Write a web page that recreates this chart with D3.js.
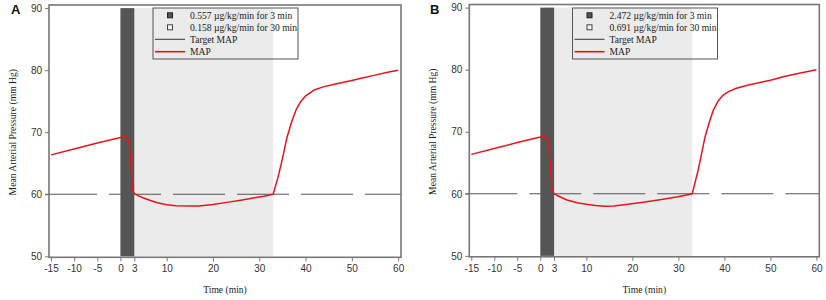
<!DOCTYPE html>
<html>
<head>
<meta charset="utf-8">
<script src="https://cdn.jsdelivr.net/npm/d3@7"></script>
<style>
  body { margin: 0; background: #fff; }
  svg { display: block; }
  .tick text { font-family: "Liberation Sans", Arial, sans-serif; font-size: 10px; fill: #333; }
  .tick line { stroke: #777; }
  .serif { font-family: "Liberation Serif", "Times New Roman", serif; font-size: 9.6px; fill: #222; }
</style>
</head>
<body>
<script>
'use strict'

// Data
const xTicks = [-15, -10, -5, 0, 3, 10, 20, 30, 40, 50, 60];
const yTicks = [50, 60, 70, 80, 90];
const targetMap = 60;
const bolus = [0, 3];      // dark band (min)
const infusion = [3, 33];  // light band (min)

const legendA = ['0.557 \u00b5g/kg/min for 3 min', '0.158 \u00b5g/kg/min for 30 min', 'Target MAP', 'MAP'];
const legendB = ['2.472 \u00b5g/kg/min for 3 min', '0.691 \u00b5g/kg/min for 30 min', 'Target MAP', 'MAP'];

const timeA = [-15, -10, -5, 0, 0.9, 1.6, 1.9, 2.2, 2.6, 3, 4, 5, 6.5, 8, 10, 12, 15, 17, 20, 23, 26, 29, 31, 33,
               34, 35, 36, 37, 38, 39, 40, 42, 44, 46, 48, 50, 52, 55, 58, 60];
const mapA  = [66.35, 67.3, 68.25, 69.15, 69.35, 69.0, 68.2, 65.5, 60.8, 60.1, 59.7, 59.4, 59.0, 58.65, 58.3, 58.15, 58.1, 58.1, 58.35, 58.7, 59.05, 59.45, 59.7, 60.0,
               62.6, 65.7, 69.2, 71.7, 73.7, 75.0, 75.85, 76.85, 77.35, 77.7, 78.0, 78.35, 78.7, 79.2, 79.7, 80.0];

const timeB = [-15, -10, -5, 0, 0.7, 1.4, 1.8, 2.1, 2.5, 3, 4, 5.8, 8, 10, 12, 14, 16, 19, 22, 26, 29.6, 31, 33,
               34.3, 35, 35.8, 36.7, 37.6, 38.6, 39.7, 41, 42.6, 45, 47.5, 50, 53, 56, 60];
const mapB  = [66.35, 67.3, 68.25, 69.15, 69.35, 69.0, 68.2, 65.5, 60.8, 60.0, 59.6, 59.0, 58.55, 58.3, 58.1, 58.0, 58.05, 58.3, 58.6, 59.05, 59.5, 59.7, 60.0,
               63.8, 66.3, 69.2, 71.5, 73.5, 74.9, 75.9, 76.5, 77.0, 77.5, 77.9, 78.3, 78.9, 79.4, 80.0];

const svg = d3.select('body').append('svg')
    .attr('width', 826)
    .attr('height', 300);

function drawPanel(p) {
    const g = svg.append('g');

    const x = d3.scaleLinear().domain([-15.43, 60.62]).range([p.left, p.right]);
    const y = d3.scaleLinear().domain([49.85, 90.5]).range([p.bottom, p.top]);

    // shaded dosing periods
    g.append('rect')
        .attr('x', x(infusion[0])).attr('y', y(90))
        .attr('width', x(infusion[1]) - x(infusion[0]))
        .attr('height', y(50) - y(90))
        .attr('fill', '#ebebeb');
    g.append('rect')
        .attr('x', x(bolus[0])).attr('y', y(90))
        .attr('width', x(bolus[1]) - x(bolus[0]))
        .attr('height', y(50) - y(90))
        .attr('fill', '#555');

    // target MAP (long dashes)
    g.append('line')
        .attr('x1', p.left - 4).attr('x2', p.right)
        .attr('y1', y(targetMap)).attr('y2', y(targetMap))
        .attr('stroke', '#555')
        .attr('stroke-width', 1.1)
        .attr('stroke-dasharray', '52,12');

    // MAP curve
    const line = d3.line()
        .x(d => x(d[0]))
        .y(d => y(d[1]));
    g.append('path')
        .datum(p.time.map((t, i) => [t, p.map[i]]))
        .attr('d', line)
        .attr('fill', 'none')
        .attr('stroke', '#e8141c')
        .attr('stroke-width', 1.5)
        .attr('stroke-linejoin', 'round');

    // axes (plain hyphen for negatives, like the original)
    const xAxis = d3.axisBottom(x).tickValues(xTicks).tickSize(4).tickPadding(4)
        .tickFormat(d => String(d));
    const yAxis = d3.axisLeft(y).tickValues(yTicks).tickSize(4).tickPadding(3)
        .tickFormat(d => String(d));

    g.append('g')
        .attr('transform', `translate(0,${p.bottom})`)
        .call(xAxis)
        .call(a => a.select('.domain').remove());
    g.append('g')
        .attr('transform', `translate(${p.left},0)`)
        .call(yAxis)
        .call(a => a.select('.domain').remove());

    // frame
    g.append('rect')
        .attr('x', p.left).attr('y', p.top)
        .attr('width', p.right - p.left)
        .attr('height', p.bottom - p.top)
        .attr('fill', 'none')
        .attr('stroke', '#777')
        .attr('stroke-width', 1.6);

    // axis titles
    g.append('text')
        .attr('class', 'serif')
        .attr('x', (p.left + p.right) / 2)
        .attr('y', 293)
        .attr('text-anchor', 'middle')
        .text('Time (min)');
    g.append('text')
        .attr('class', 'serif')
        .attr('transform', `translate(${p.left - 33},${y(70)}) rotate(-90)`)
        .attr('text-anchor', 'middle')
        .text('Mean Arterial Pressure (mm Hg)');

    // panel letter
    g.append('text')
        .attr('x', p.letterX).attr('y', 14)
        .style('font-family', '"Liberation Sans", Arial, sans-serif')
        .style('font-weight', 'bold')
        .style('font-size', '13px')
        .attr('fill', '#111')
        .text(p.letter);

    // legend (transparent box)
    const lg = g.append('g').attr('transform', `translate(${p.legendX},8)`);
    lg.append('rect')
        .attr('width', 145).attr('height', 51)
        .attr('fill', 'none')
        .attr('stroke', '#555')
        .attr('stroke-width', 1);
    const rows = [7.3, 19.3, 31.3, 43.7];
    lg.append('rect')
        .attr('x', 14.5).attr('y', rows[0] - 2.5)
        .attr('width', 5).attr('height', 5)
        .attr('fill', '#555').attr('stroke', '#222');
    lg.append('rect')
        .attr('x', 14.5).attr('y', rows[1] - 2.5)
        .attr('width', 5).attr('height', 5)
        .attr('fill', '#f4f4f4').attr('stroke', '#444');
    lg.append('line')
        .attr('x1', 2).attr('x2', 32)
        .attr('y1', rows[2]).attr('y2', rows[2])
        .attr('stroke', '#333').attr('stroke-width', 1);
    lg.append('line')
        .attr('x1', 2).attr('x2', 32)
        .attr('y1', rows[3]).attr('y2', rows[3])
        .attr('stroke', '#e8141c').attr('stroke-width', 1.6);
    lg.selectAll('text.item')
        .data(p.legend)
        .join('text')
        .attr('class', 'item serif')
        .attr('x', 37)
        .attr('y', (d, i) => rows[i] + 3.4)
        .text(d => d);
}

drawPanel({letter: 'A', letterX: 11, left: 49, right: 401, top: 5, bottom: 257.3,
           time: timeA, map: mapA, legend: legendA, legendX: 153});
drawPanel({letter: 'B', letterX: 430, left: 469.3, right: 819.3, top: 4.5, bottom: 256.8,
           time: timeB, map: mapB, legend: legendB, legendX: 572.5});
</script>
</body>
</html>
